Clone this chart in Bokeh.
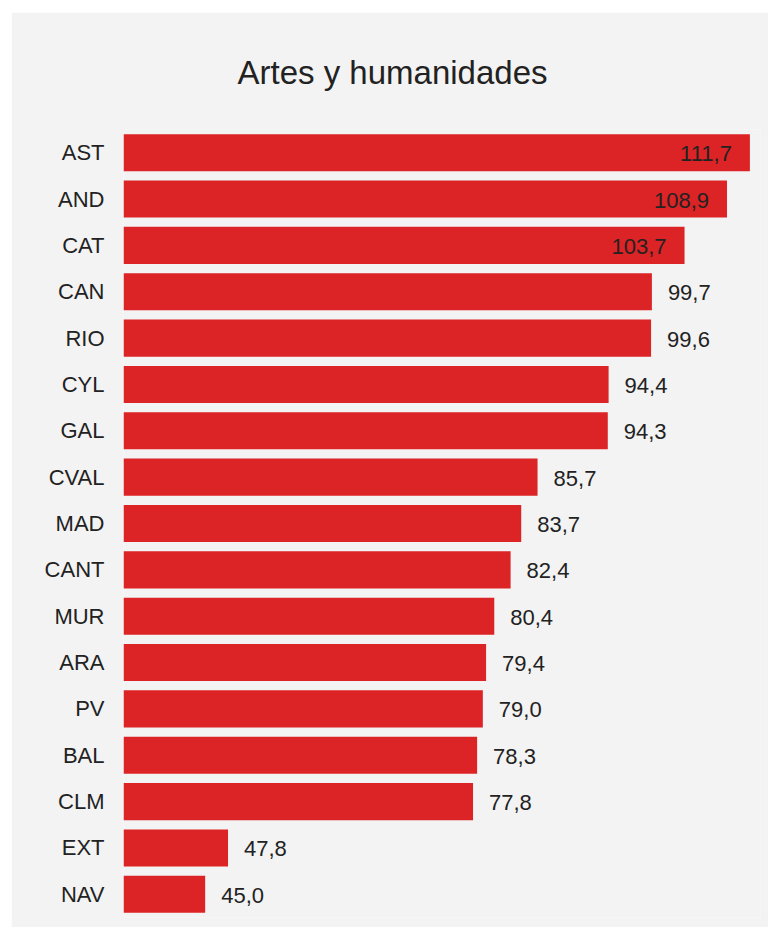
from bokeh.plotting import figure
from bokeh.models import ColumnDataSource, FactorRange, Range1d, Title
from bokeh.embed import file_html
from bokeh.resources import INLINE
from bokeh.core.properties import value

title_text = "Artes y humanidades"
regions = ["AST", "AND", "CAT", "CAN", "RIO", "CYL", "GAL", "CVAL", "MAD",
           "CANT", "MUR", "ARA", "PV", "BAL", "CLM", "EXT", "NAV"]
values = [111.7, 108.9, 103.7, 99.7, 99.6, 94.4, 94.3, 85.7, 83.7,
          82.4, 80.4, 79.4, 79.0, 78.3, 77.8, 47.8, 45.0]
x_start, x_end = 35, 113

BG = "#f3f3f3"
BAR = "#dc2325"
TXT = "#222222"
FONT = "Liberation Sans"

labels = [f"{v:.1f}".replace(".", ",") for v in values]
src = ColumnDataSource(dict(cat=regions, val=values, lab=labels))
inside = ColumnDataSource(dict(
    cat=[c for c, v in zip(regions, values) if v >= 100],
    val=[v for v in values if v >= 100],
    lab=[l for l, v in zip(labels, values) if v >= 100]))
outside = ColumnDataSource(dict(
    cat=[c for c, v in zip(regions, values) if v < 100],
    val=[v for v in values if v < 100],
    lab=[l for l, v in zip(labels, values) if v < 100]))

p = figure(width=757, height=915, output_backend="svg", toolbar_location=None,
           y_range=FactorRange(factors=list(reversed(regions))),
           x_range=Range1d(x_start, x_end),
           min_border_left=112, min_border_right=8, min_border_top=117,
           min_border_bottom=10)
p.margin = (12, 0, 0, 11)
p.background_fill_color = BG
p.border_fill_color = BG
p.outline_line_color = None

t = Title(text=title_text, align="left", offset=114,
          text_font=FONT, text_font_size="33px", text_font_style="normal",
          text_color=TXT, standoff=77)
p.add_layout(t, "above")
p.title.visible = False

p.hbar(y="cat", left=x_start, right="val", height=0.8, source=src,
       fill_color=BAR, line_color=None)

p.text(x="val", y="cat", text="lab", source=inside, text_align="right",
       text_baseline="middle", x_offset=-18, y_offset=1,
       text_font=value(FONT), text_font_size="22px", text_color=TXT)
p.text(x="val", y="cat", text="lab", source=outside, text_align="left",
       text_baseline="middle", x_offset=16, y_offset=1,
       text_font=value(FONT), text_font_size="22px", text_color=TXT)

p.xaxis.visible = False
p.xgrid.visible = False
p.ygrid.visible = False
ax = p.yaxis[0]
ax.axis_line_color = None
ax.major_tick_line_color = None
ax.minor_tick_line_color = None
ax.major_label_standoff = 13
ax.major_label_text_font = FONT
ax.major_label_text_font_size = "22px"
ax.major_label_text_color = TXT

open("out.html", "w").write(file_html(p, INLINE))
